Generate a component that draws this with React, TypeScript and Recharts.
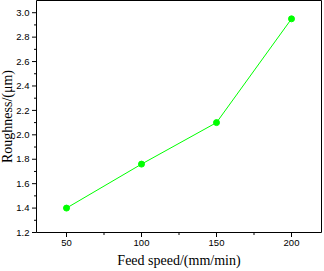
import React from 'react';
import { LineChart, Line, XAxis, YAxis, ReferenceLine } from 'recharts';

const feedSpeeds = [50, 100, 150, 200];
const roughness = [1.4, 1.76, 2.1, 2.95];
const xMajorTicks = [50, 100, 150, 200];
const xMinorTicks = [75, 125, 175];
const yMajorTicks = [1.2, 1.4, 1.6, 1.8, 2.0, 2.2, 2.4, 2.6, 2.8, 3.0];
const yMinorTicks = [1.3, 1.5, 1.7, 1.9, 2.1, 2.3, 2.5, 2.7, 2.9];

const data = feedSpeeds.map((f, i) => ({ feed: f, r: roughness[i] }));
const xTicks = [...xMajorTicks, ...xMinorTicks].sort((a, b) => a - b);
const yTicks = [...yMajorTicks, ...yMinorTicks].sort((a, b) => a - b);

const sans = 'Arial, "Liberation Sans", sans-serif';
const serif = '"Times New Roman", "Liberation Serif", serif';

const YTick = (props: any) => {
  const { x, y, payload } = props;
  const major = yMajorTicks.some((v) => Math.abs(v - payload.value) < 1e-6);
  return (
    <g>
      <line x1={x - (major ? 4.5 : 2.5)} x2={x} y1={y} y2={y} stroke="#000" strokeWidth={1} />
      {major && (
        <text x={x - 7} y={y} dy={3.2} textAnchor="end" fontFamily={sans} fontSize={9.5} fill="#000">
          {payload.value.toFixed(1)}
        </text>
      )}
    </g>
  );
};

const XTick = (props: any) => {
  const { x, y, payload } = props;
  const major = xMajorTicks.includes(payload.value);
  return (
    <g>
      <line x1={x} x2={x} y1={y} y2={y + (major ? 4.5 : 2.5)} stroke="#000" strokeWidth={1} />
      {major && (
        <text x={x} y={y} dy={13} textAnchor="middle" fontFamily={sans} fontSize={9.5} fill="#000">
          {payload.value}
        </text>
      )}
    </g>
  );
};

export default function App() {
  return (
    <div style={{ position: 'absolute', left: 0, top: 0, width: 324, height: 271, background: '#fff' }}>
      <LineChart width={324} height={271} data={data} margin={{ top: 0.5, right: 2.5, left: 0, bottom: 0 }}>
        <XAxis
          dataKey="feed"
          type="number"
          domain={[30, 220]}
          ticks={xTicks}
          interval={0}
          tickSize={0}
          tickMargin={0}
          tickLine={false}
          tick={<XTick />}
          height={38.5}
          axisLine={{ stroke: '#000', strokeWidth: 1 }}
          label={{
            value: 'Feed speed/(mm/min)',
            position: 'insideBottom',
            offset: 6,
            style: { fontFamily: serif, fontSize: 14, fill: '#000' },
          }}
        />
        <YAxis
          type="number"
          domain={[1.2, 3.1]}
          ticks={yTicks}
          interval={0}
          tickSize={0}
          tickMargin={0}
          tickLine={false}
          tick={<YTick />}
          width={36.5}
          allowDataOverflow
          axisLine={{ stroke: '#000', strokeWidth: 1 }}
          label={{
            value: 'Roughness/(\u03bcm)',
            angle: -90,
            position: 'insideLeft',
            offset: 7.5,
            style: { fontFamily: serif, fontSize: 14, fill: '#000', textAnchor: 'middle' },
          }}
        />
        <ReferenceLine y={3.1} stroke="#000" strokeWidth={1} />
        <ReferenceLine x={220} stroke="#000" strokeWidth={1} />
        <Line
          dataKey="r"
          stroke="#00ff00"
          strokeWidth={1}
          isAnimationActive={false}
          dot={{ r: 3, fill: '#00ff00', stroke: '#00ff00', strokeWidth: 1 }}
          activeDot={false}
        />
      </LineChart>
    </div>
  );
}
